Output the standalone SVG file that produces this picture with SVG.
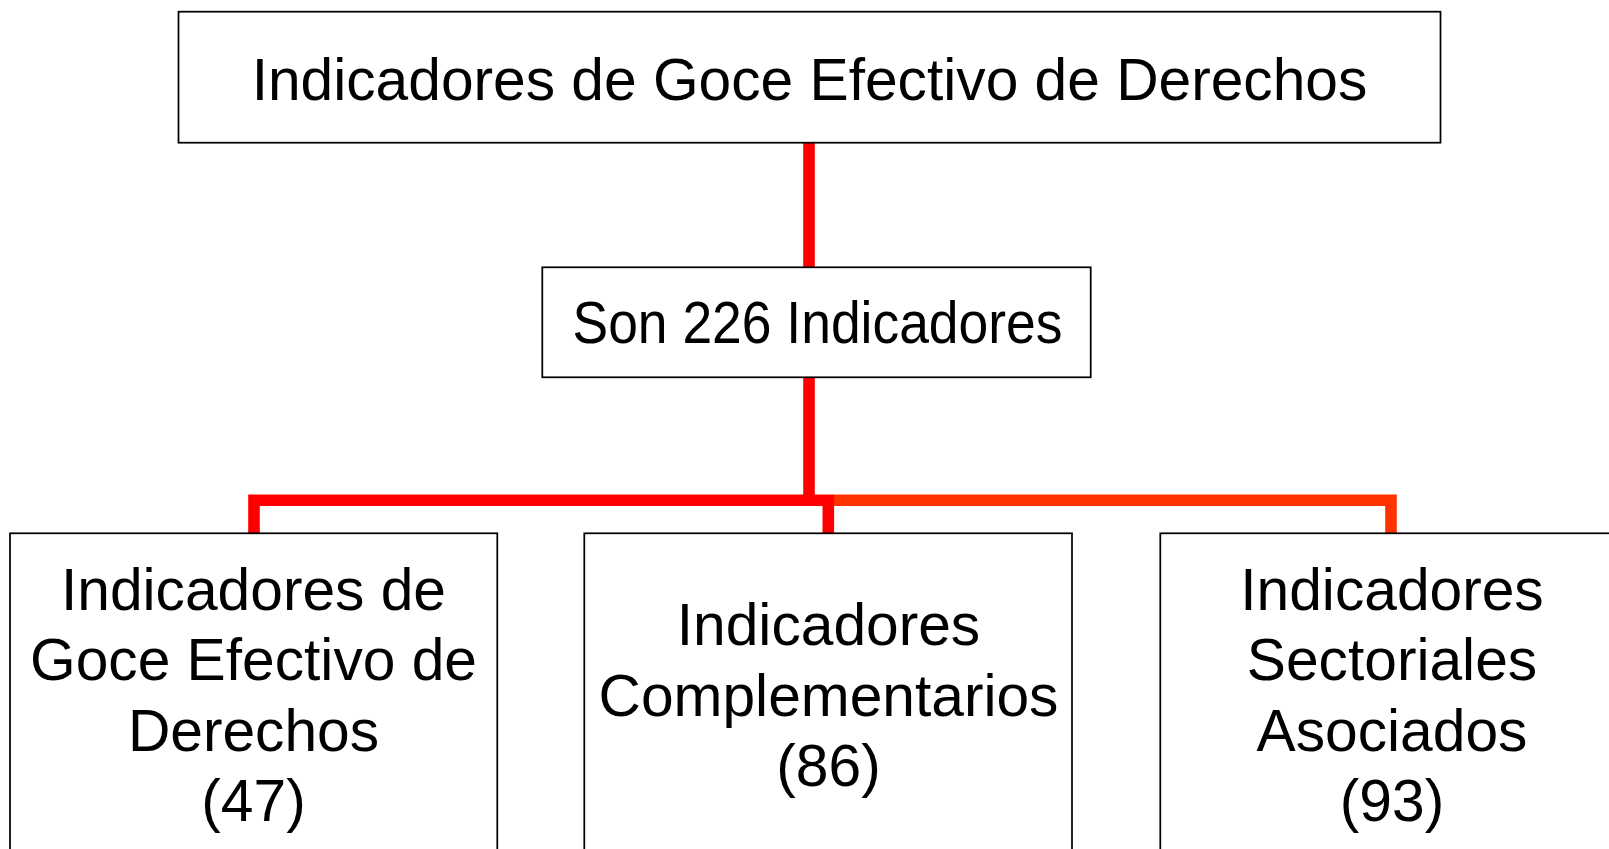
<svg xmlns="http://www.w3.org/2000/svg" width="1609" height="849" viewBox="0 0 1609 849">
<style>
.box{fill:#fff;stroke:#000;stroke-width:1.75}
.t{font-family:"Liberation Sans",Arial,sans-serif;font-size:58.7px;fill:#000;text-anchor:middle}
.red{fill:none;stroke:#ff0000;stroke-width:11.6;stroke-linejoin:miter;stroke-linecap:butt}
.orange{fill:none;stroke:#ff3300;stroke-width:11.6;stroke-linejoin:miter;stroke-linecap:butt}
</style>
<rect width="1609" height="849" fill="#fff"/>
<g id="connectors">
<path class="red" d="M809,139.3 V267"/>
<path class="red" d="M809,377 V505.8"/>
<path class="orange" d="M834,500.2 H1391 V536.7"/>
<path class="red" d="M254,536.7 V500.2 H828.3 V536.7"/>
</g>
<g id="top">
<rect class="box" x="178.5" y="11.7" width="1262" height="131"/>
<text class="t" x="809.5" y="100">Indicadores de Goce Efectivo de Derechos</text>
</g>
<g id="son">
<rect class="box" x="542.3" y="267.3" width="548.4" height="110"/>
<text class="t" x="817.5" y="343.3" textLength="490" lengthAdjust="spacingAndGlyphs">Son 226 Indicadores</text>
</g>
<g id="ged">
<rect class="box" x="10" y="533.3" width="487.3" height="340"/>
<text class="t" x="253.5"><tspan x="253.5" y="610">Indicadores de</tspan><tspan x="253.5" y="680.3">Goce Efectivo de</tspan><tspan x="253.5" y="750.7">Derechos</tspan><tspan x="253.5" y="821">(47)</tspan></text>
</g>
<g id="complementarios">
<rect class="box" x="584.3" y="533.3" width="487.7" height="340"/>
<text class="t" x="828.5"><tspan x="828.5" y="645.2">Indicadores</tspan><tspan x="828.5" y="715.5">Complementarios</tspan><tspan x="828.5" y="785.8">(86)</tspan></text>
</g>
<g id="sectoriales">
<rect class="box" x="1160.3" y="533.3" width="487.7" height="340"/>
<text class="t" x="1392"><tspan x="1392" y="610">Indicadores</tspan><tspan x="1392" y="680.3">Sectoriales</tspan><tspan x="1392" y="750.7">Asociados</tspan><tspan x="1392" y="821">(93)</tspan></text>
</g>
</svg>
